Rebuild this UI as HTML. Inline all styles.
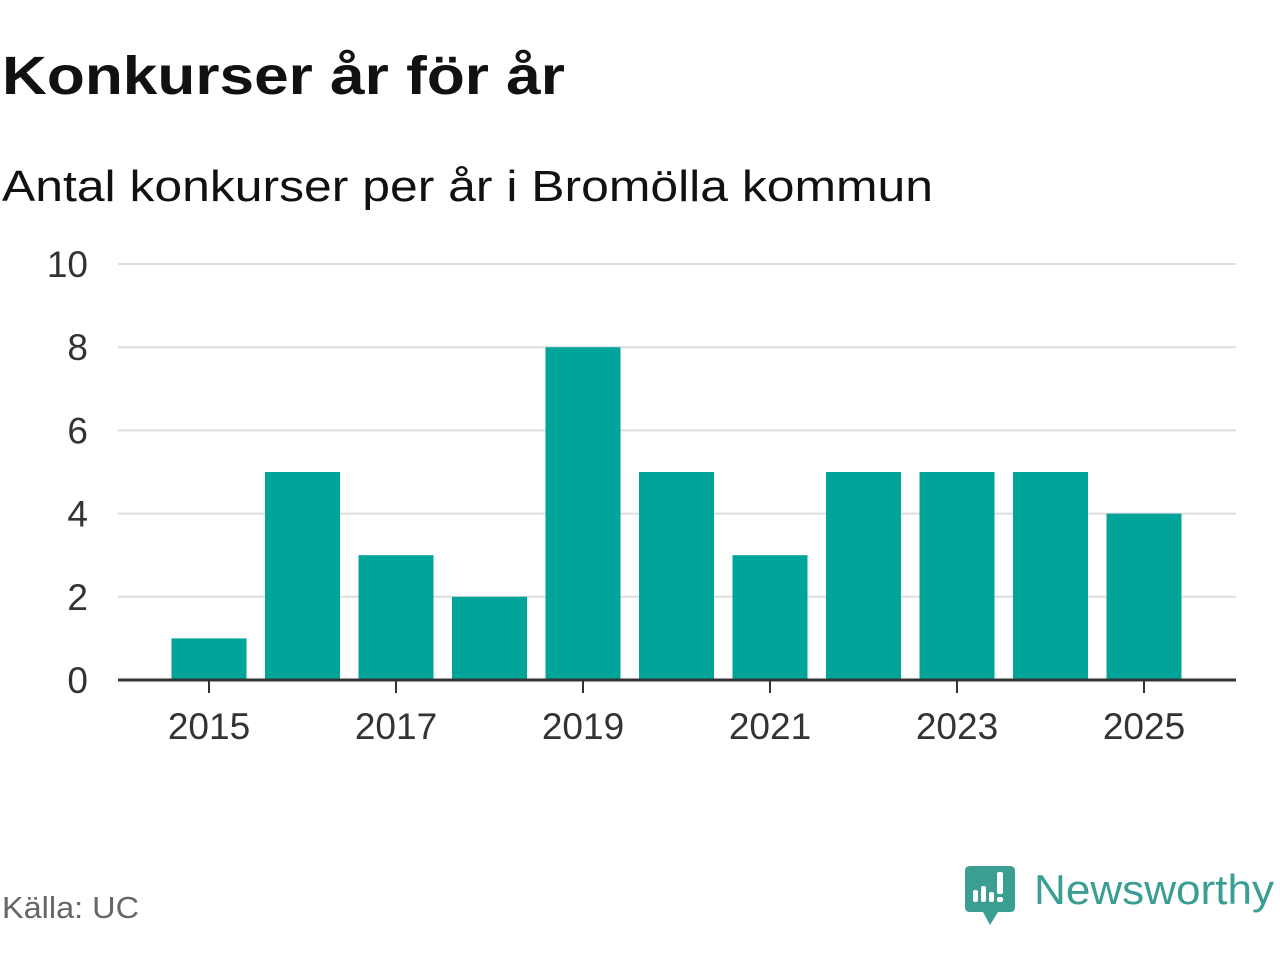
<!DOCTYPE html>
<html><head><meta charset="utf-8"><style>
body{margin:0;background:#fff;width:1280px;height:960px;overflow:hidden;font-family:"Liberation Sans","DejaVu Sans",sans-serif}
</style></head><body>
<svg width="1280" height="960" xmlns="http://www.w3.org/2000/svg">
<text x="2" y="94" font-size="54" font-weight="bold" fill="#111" textLength="563" lengthAdjust="spacingAndGlyphs">Konkurser år för år</text>
<text x="2" y="201" font-size="44" fill="#111" textLength="931" lengthAdjust="spacingAndGlyphs">Antal konkurser per år i Bromölla kommun</text>
<g id="grid"></g><g id="bars"></g><g id="axes"></g>
<text x="2" y="918" font-size="31" fill="#666" textLength="137" lengthAdjust="spacingAndGlyphs">Källa: UC</text>
<g>
<path d="M970 866 H1010 Q1015 866 1015 871 V907 Q1015 912 1010 912 H998 L990 925 L983 912 H970 Q965 912 965 907 V871 Q965 866 970 866 Z" fill="#3a9e92"/>
<rect x="973" y="890" width="5" height="12" rx="2" fill="#fff"/>
<rect x="981" y="886" width="5" height="16" rx="2" fill="#fff"/>
<rect x="989" y="892" width="5" height="10" rx="2" fill="#fff"/>
<rect x="997" y="872" width="6" height="22" rx="2" fill="#fff"/>
<rect x="997" y="897" width="6" height="5" rx="2" fill="#fff"/>
<text x="1034" y="904" font-size="42" fill="#3a9e92" textLength="240" lengthAdjust="spacingAndGlyphs">Newsworthy</text>
</g>
</svg>
<script>
const years=[2015,2016,2017,2018,2019,2020,2021,2022,2023,2024,2025];
const counts=[1,5,3,2,8,5,3,5,5,5,4];
const yTicks=[0,2,4,6,8,10];
const xTicks=[2015,2017,2019,2021,2023,2025];
const NS="http://www.w3.org/2000/svg";
const y=v=>680-v*41.6, x=yr=>209+(yr-2015)*93.5;
function mk(parent,tag,attrs){const e=document.createElementNS(NS,tag);for(const k in attrs)e.setAttribute(k,attrs[k]);document.getElementById(parent).appendChild(e);return e;}
yTicks.forEach(t=>{
 if(t>0){const g=mk('grid','line',{x1:118,x2:1236,y1:y(t),y2:y(t),stroke:'#ddd','stroke-width':2});
 
 }
 const l=mk('axes','text',{x:88,y:y(t)+13,'font-size':37,fill:'#333','text-anchor':'end'});l.textContent=t;
 
 
});
years.forEach((yr,i)=>{
 const b=mk('bars','rect',{x:x(yr)-37.5,width:75,y:y(counts[i]),height:counts[i]*41.6,fill:'#00a499'});
 
 
});
const ax=mk('axes','line',{x1:118,x2:1236,y1:680,y2:680,stroke:'#333','stroke-width':3});


xTicks.forEach(t=>{
 const tk=mk('axes','line',{x1:x(t),x2:x(t),y1:680,y2:693,stroke:'#333','stroke-width':2});
 
 
 const l=mk('axes','text',{x:x(t),y:739,'font-size':37,fill:'#333','text-anchor':'middle'});l.textContent=t;
 
 
});
</script>
</body></html>
